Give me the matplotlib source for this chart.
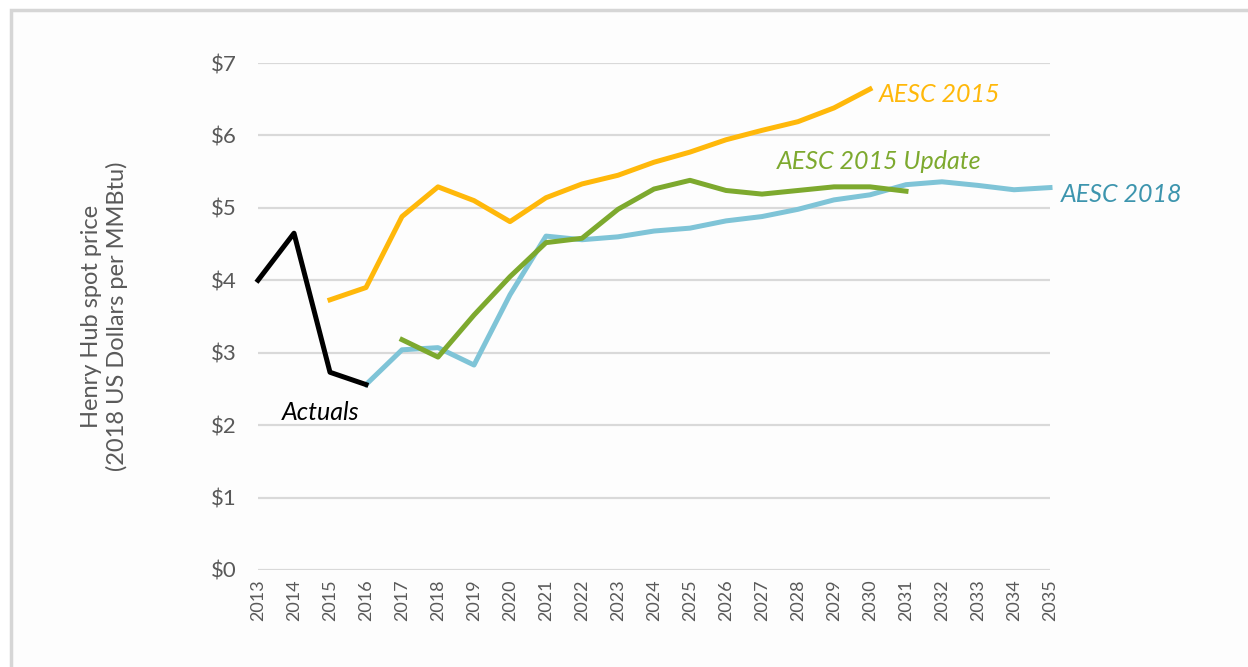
import matplotlib
matplotlib.use("Agg")
import matplotlib.pyplot as plt
from matplotlib.patches import Rectangle

plt.rcParams['font.family'] = ['Lato', 'DejaVu Sans']

years = list(range(2013, 2036))

actual_years = [2013, 2014, 2015, 2016]
actuals = [4.00, 4.65, 2.73, 2.56]

aesc15_years = list(range(2015, 2031))
aesc15 = [3.73, 3.90, 4.88, 5.29, 5.10, 4.81, 5.14, 5.33, 5.45, 5.63, 5.77,
          5.94, 6.07, 6.19, 6.38, 6.64]

update_years = list(range(2017, 2032))
aesc15_update = [3.18, 2.94, 3.52, 4.05, 4.52, 4.58, 4.98, 5.26, 5.38, 5.24,
                 5.19, 5.24, 5.29, 5.29, 5.23]

aesc18_years = list(range(2016, 2036))
aesc18 = [2.56, 3.04, 3.07, 2.83, 3.80, 4.61, 4.56, 4.60, 4.68, 4.72, 4.82,
          4.88, 4.98, 5.11, 5.18, 5.32, 5.36, 5.31, 5.25, 5.28]

ytick_vals = [0, 1, 2, 3, 4, 5, 6, 7]
ytick_labels = ['$0', '$1', '$2', '$3', '$4', '$5', '$6', '$7']

fig = plt.figure(figsize=(12.48, 6.67), dpi=100)
fig.patch.set_facecolor('white')
# light gray frame around the chart
frame = Rectangle((11 / 1248, -0.01), 1.02, 1 - 10 / 667 + 0.01,
                  transform=fig.transFigure, facecolor='#fdfdfd',
                  edgecolor='#d6d6d6', linewidth=2.5, zorder=-10)
fig.patches.append(frame)

ax = fig.add_axes([258 / 1248, 1 - 570 / 667, (1050 - 258) / 1248, (570 - 63) / 667])
ax.set_facecolor('none')

lw = 3.6
ax.plot(aesc18_years, aesc18, color='#7fc4d7', lw=lw, clip_on=False, zorder=3)
ax.plot(aesc15_years, aesc15, color='#ffb80a', lw=lw, clip_on=False, zorder=4)
ax.plot(update_years, aesc15_update, color='#7da92e', lw=lw, clip_on=False, zorder=5)
ax.plot(actual_years, actuals, color='black', lw=lw, clip_on=False, zorder=6)

ax.set_xlim(2013, 2035)
ax.set_ylim(0, 7)
ax.set_yticks(ytick_vals)
ax.set_yticklabels(ytick_labels)
ax.set_xticks(years)
ax.set_xticklabels([str(y) for y in years], rotation=90)
ax.grid(axis='y', color='#d9d9d9', lw=1.6)
ax.set_axisbelow(True)
for s in ax.spines.values():
    s.set_visible(False)
ax.tick_params(axis='both', length=0, labelcolor='#595959')
ax.tick_params(axis='y', pad=15, labelsize=16)
ax.tick_params(axis='x', pad=7, labelsize=13)

ax.set_ylabel('Henry Hub spot price\n(2018 US Dollars per MMBtu)', color='#595959',
              fontsize=17, labelpad=60, linespacing=1.2)

ax.text(2030.25, 6.57, 'AESC 2015', color='#ffb80a', fontsize=18,
        style='italic', va='center', ha='left')
ax.text(2027.4, 5.64, 'AESC 2015 Update', color='#7da92e', fontsize=18,
        style='italic', va='center', ha='left')
ax.text(2035.3, 5.19, 'AESC 2018', color='#3d95ae', fontsize=18,
        style='italic', va='center', ha='left')
ax.text(2013.65, 2.18, 'Actuals', color='black', fontsize=18,
        style='italic', va='center', ha='left')

fig.savefig('out.png', dpi=100)
